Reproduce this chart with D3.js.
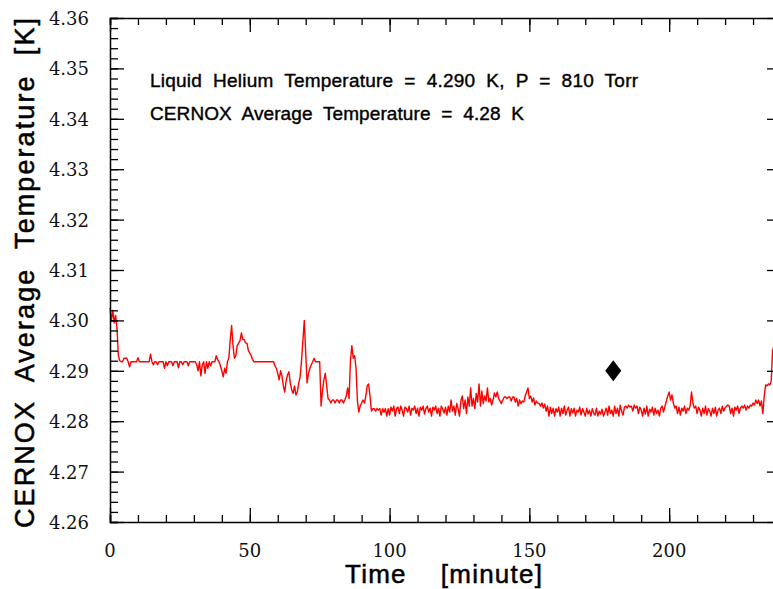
<!DOCTYPE html>
<html>
<head>
<meta charset="utf-8">
<script src="https://cdn.jsdelivr.net/npm/d3@7"></script>
<style>
    body { margin: 0; background: #fff; overflow: hidden; }
    text { white-space: pre; }
</style>
</head>
<body>
<div id="chart"></div>
<script>
// sampling step of the temperature log, in minutes
var sampleStep = 0.5;

// CERNOX average temperature [K], one value every 0.5 minute from t = 0
var cernoxTemp = [
    4.3025,4.3000,4.3020,4.2995,4.3010,4.2985,4.2930,4.2920,4.2918,4.2918,4.2925,4.2925,4.2925,4.2918,4.2908,4.2918,4.2918,4.2918,4.2918,4.2918,
    4.2926,4.2918,4.2918,4.2918,4.2918,4.2918,4.2918,4.2918,4.2918,4.2933,4.2918,4.2912,4.2918,4.2918,4.2912,4.2918,4.2918,4.2918,4.2918,4.2905,
    4.2918,4.2910,4.2918,4.2918,4.2918,4.2910,4.2918,4.2918,4.2918,4.2906,4.2918,4.2918,4.2912,4.2918,4.2918,4.2918,4.2910,4.2918,4.2918,4.2918,
    4.2918,4.2918,4.2912,4.2900,4.2918,4.2890,4.2912,4.2918,4.2895,4.2918,4.2905,4.2918,4.2910,4.2918,4.2918,4.2918,4.2930,4.2922,4.2918,4.2910,
    4.2900,4.2888,4.2905,4.2895,4.2918,4.2925,4.2960,4.2990,4.2950,4.2925,4.2930,4.2950,4.2955,4.2960,4.2975,4.2962,4.2962,4.2955,4.2955,4.2940,
    4.2935,4.2930,4.2922,4.2918,4.2918,4.2918,4.2918,4.2918,4.2918,4.2918,4.2918,4.2918,4.2918,4.2918,4.2918,4.2918,4.2918,4.2918,4.2910,4.2905,
    4.2895,4.2882,4.2900,4.2890,4.2870,4.2858,4.2880,4.2892,4.2898,4.2875,4.2862,4.2855,4.2870,4.2852,4.2858,4.2875,4.2888,4.2920,4.2960,4.3000,
    4.2935,4.2876,4.2895,4.2905,4.2912,4.2918,4.2925,4.2918,4.2918,4.2918,4.2918,4.2830,4.2860,4.2882,4.2895,4.2870,4.2845,4.2842,4.2836,4.2842,
    4.2842,4.2836,4.2842,4.2842,4.2836,4.2842,4.2842,4.2836,4.2842,4.2850,4.2866,4.2845,4.2920,4.2950,4.2925,4.2930,4.2905,4.2840,4.2818,4.2830,
    4.2836,4.2842,4.2836,4.2850,4.2870,4.2874,4.2850,4.2820,4.2825,4.2825,4.2820,4.2825,4.2822,4.2825,4.2812,4.2825,4.2818,4.2825,4.2810,4.2825,
    4.2812,4.2828,4.2820,4.2830,4.2810,4.2825,4.2828,4.2815,4.2830,4.2822,4.2810,4.2828,4.2825,4.2818,4.2830,4.2812,4.2826,4.2822,4.2830,4.2815,
    4.2826,4.2810,4.2828,4.2822,4.2830,4.2814,4.2825,4.2830,4.2818,4.2826,4.2810,4.2828,4.2822,4.2830,4.2815,4.2826,4.2810,4.2830,4.2824,4.2816,
    4.2828,4.2812,4.2830,4.2818,4.2842,4.2820,4.2830,4.2812,4.2835,4.2825,4.2810,4.2840,4.2850,4.2825,4.2842,4.2815,4.2848,4.2830,4.2866,4.2830,
    4.2845,4.2825,4.2855,4.2838,4.2874,4.2830,4.2860,4.2835,4.2850,4.2840,4.2866,4.2838,4.2845,4.2832,4.2842,4.2856,4.2848,4.2858,4.2845,4.2840,
    4.2835,4.2842,4.2848,4.2848,4.2845,4.2848,4.2848,4.2840,4.2848,4.2848,4.2838,4.2845,4.2830,4.2842,4.2835,4.2840,4.2838,4.2850,4.2858,4.2866,
    4.2845,4.2850,4.2838,4.2846,4.2832,4.2840,4.2836,4.2835,4.2830,4.2836,4.2826,4.2834,4.2820,4.2830,4.2810,4.2828,4.2815,4.2826,4.2810,4.2825,
    4.2818,4.2828,4.2810,4.2826,4.2815,4.2830,4.2812,4.2822,4.2828,4.2810,4.2825,4.2816,4.2826,4.2810,4.2822,4.2818,4.2828,4.2812,4.2825,4.2818,
    4.2810,4.2826,4.2814,4.2822,4.2810,4.2825,4.2816,4.2812,4.2826,4.2810,4.2820,4.2814,4.2824,4.2810,4.2818,4.2826,4.2812,4.2830,4.2815,4.2822,
    4.2810,4.2830,4.2815,4.2826,4.2810,4.2832,4.2820,4.2812,4.2828,4.2830,4.2826,4.2832,4.2828,4.2830,4.2820,4.2832,4.2826,4.2830,4.2815,4.2828,
    4.2822,4.2810,4.2826,4.2814,4.2830,4.2810,4.2824,4.2818,4.2828,4.2812,4.2826,4.2815,4.2822,4.2810,4.2826,4.2830,4.2818,4.2830,4.2840,4.2850,
    4.2858,4.2842,4.2852,4.2836,4.2826,4.2830,4.2815,4.2828,4.2812,4.2826,4.2820,4.2830,4.2815,4.2826,4.2822,4.2830,4.2858,4.2835,4.2826,4.2830,
    4.2815,4.2828,4.2822,4.2810,4.2826,4.2815,4.2830,4.2812,4.2825,4.2820,4.2810,4.2826,4.2815,4.2828,4.2810,4.2822,4.2826,4.2815,4.2830,4.2820,
    4.2826,4.2830,4.2832,4.2830,4.2815,4.2826,4.2810,4.2828,4.2822,4.2830,4.2815,4.2826,4.2830,4.2826,4.2832,4.2822,4.2830,4.2826,4.2832,4.2830,
    4.2836,4.2832,4.2842,4.2835,4.2842,4.2830,4.2840,4.2815,4.2850,4.2872,4.2870,4.2874,4.2872,4.2880,4.2940,4.2950
];

// liquid helium reference point (time, temperature)
var heliumPoint = [180, 4.290];

var xTicks = [0, 50, 100, 150, 200];
var yTicks = [4.26, 4.27, 4.28, 4.29, 4.30, 4.31, 4.32, 4.33, 4.34, 4.35, 4.36];

var noteLines = [
    "Liquid  Helium  Temperature  =  4.290  K,  P  =  810  Torr",
    "CERNOX  Average  Temperature  =  4.28  K"
];
var xTitle = "Time    [minute]";
var yTitle = "CERNOX  Average  Temperature  [K]";

var width = 773,
    height = 589;
// plot frame (the right edge runs just past the window)
var plotLeft = 110, plotRight = 781, plotTop = 18, plotBottom = 522;

var svg = d3.select("#chart")
    .append("svg")
    .attr("width", width)
    .attr("height", height);

var x = d3.scaleLinear().domain([0, 240]).range([plotLeft, plotRight]);
var y = d3.scaleLinear().domain([4.26, 4.36]).range([plotBottom, plotTop]);

var points = cernoxTemp.map(function(v, i) { return [i * sampleStep, v]; });

// red temperature trace
var line = d3.line()
    .x(function(d) { return x(d[0]); })
    .y(function(d) { return y(d[1]); });

svg.append("path")
    .datum(points)
    .attr("d", line)
    .attr("fill", "none")
    .attr("stroke", "#ff0000")
    .attr("stroke-width", 1.4)
    .attr("stroke-linejoin", "round");

// frame with inward ticks on all four sides
var xMinor = d3.range(0, 241, 10);
var yMinor = d3.range(0, 51).map(function(i) { return 4.26 + i * 0.002; });

function drawAxis(gen, scale, tr, minorT, majorT, minorLen, majorLen) {
    var g = svg.append("g").attr("transform", tr)
        .call(gen(scale).tickValues(minorT).tickFormat("").tickSizeOuter(0).tickSize(minorLen));
    var g2 = svg.append("g").attr("transform", tr)
        .call(gen(scale).tickValues(majorT).tickFormat("").tickSizeOuter(0).tickSize(majorLen));
    g2.select(".domain").remove();
    [g, g2].forEach(function(s) {
        s.selectAll("line").attr("stroke", "#000").attr("stroke-width", 1.3);
        s.selectAll(".domain").attr("stroke", "#000").attr("stroke-width", 1.5);
    });
}
// ticks point into the plot, so use negative sizes
drawAxis(d3.axisBottom, x, "translate(0," + plotBottom + ")", xMinor, d3.range(0, 241, 50), -7, -14);
drawAxis(d3.axisTop, x, "translate(0," + plotTop + ")", xMinor, d3.range(0, 241, 50), -7, -14);
drawAxis(d3.axisLeft, y, "translate(" + plotLeft + ",0)", yMinor, yTicks, -8, -14);
drawAxis(d3.axisRight, y, "translate(" + plotRight + ",0)", yMinor, yTicks, -8, -14);

// tick labels
svg.append("g").selectAll("text")
    .data(yTicks)
    .enter().append("text")
    .attr("x", 89)
    .attr("y", function(d) { return y(d) + 7; })
    .attr("text-anchor", "end")
    .attr("font-family", "DejaVu Serif")
    .attr("font-size", 18)
    .attr("fill", "#111")
    .text(function(d) { return d.toFixed(2); });

svg.append("g").selectAll("text")
    .data(xTicks)
    .enter().append("text")
    .attr("x", function(d) { return x(d); })
    .attr("y", 557)
    .attr("text-anchor", "middle")
    .attr("font-family", "DejaVu Serif")
    .attr("font-size", 18)
    .attr("fill", "#111")
    .text(function(d) { return d; });

// axis titles
svg.append("text")
    .attr("x", 345)
    .attr("y", 583)
    .attr("font-family", "Liberation Sans")
    .attr("font-size", 26)
    .attr("stroke", "#000")
    .attr("stroke-width", 0.5)
    .attr("textLength", 197)
    .attr("lengthAdjust", "spacing")
    .text(xTitle);

svg.append("text")
    .attr("transform", "translate(34,528) rotate(-90)")
    .attr("font-family", "Liberation Sans")
    .attr("font-size", 27)
    .attr("stroke", "#000")
    .attr("stroke-width", 0.5)
    .attr("textLength", 510)
    .attr("lengthAdjust", "spacing")
    .text(yTitle);

// annotation lines
var noteLen = [488, 374];
svg.append("g").selectAll("text")
    .data(noteLines)
    .enter().append("text")
    .attr("x", 150)
    .attr("y", function(d, i) { return 87 + i * 33; })
    .attr("font-family", "Liberation Sans")
    .attr("font-size", 19)
    .attr("stroke", "#000")
    .attr("stroke-width", 0.4)
    .attr("textLength", function(d, i) { return noteLen[i]; })
    .attr("lengthAdjust", "spacing")
    .text(function(d) { return d; });

// black diamond marker for the liquid helium temperature
var cx = x(heliumPoint[0]), cy = y(heliumPoint[1]);
svg.append("path")
    .attr("d", "M" + cx + "," + (cy - 10.5) + "L" + (cx + 8) + "," + cy +
        "L" + cx + "," + (cy + 10.5) + "L" + (cx - 8) + "," + cy + "Z")
    .attr("fill", "#000");
</script>
</body>
</html>
